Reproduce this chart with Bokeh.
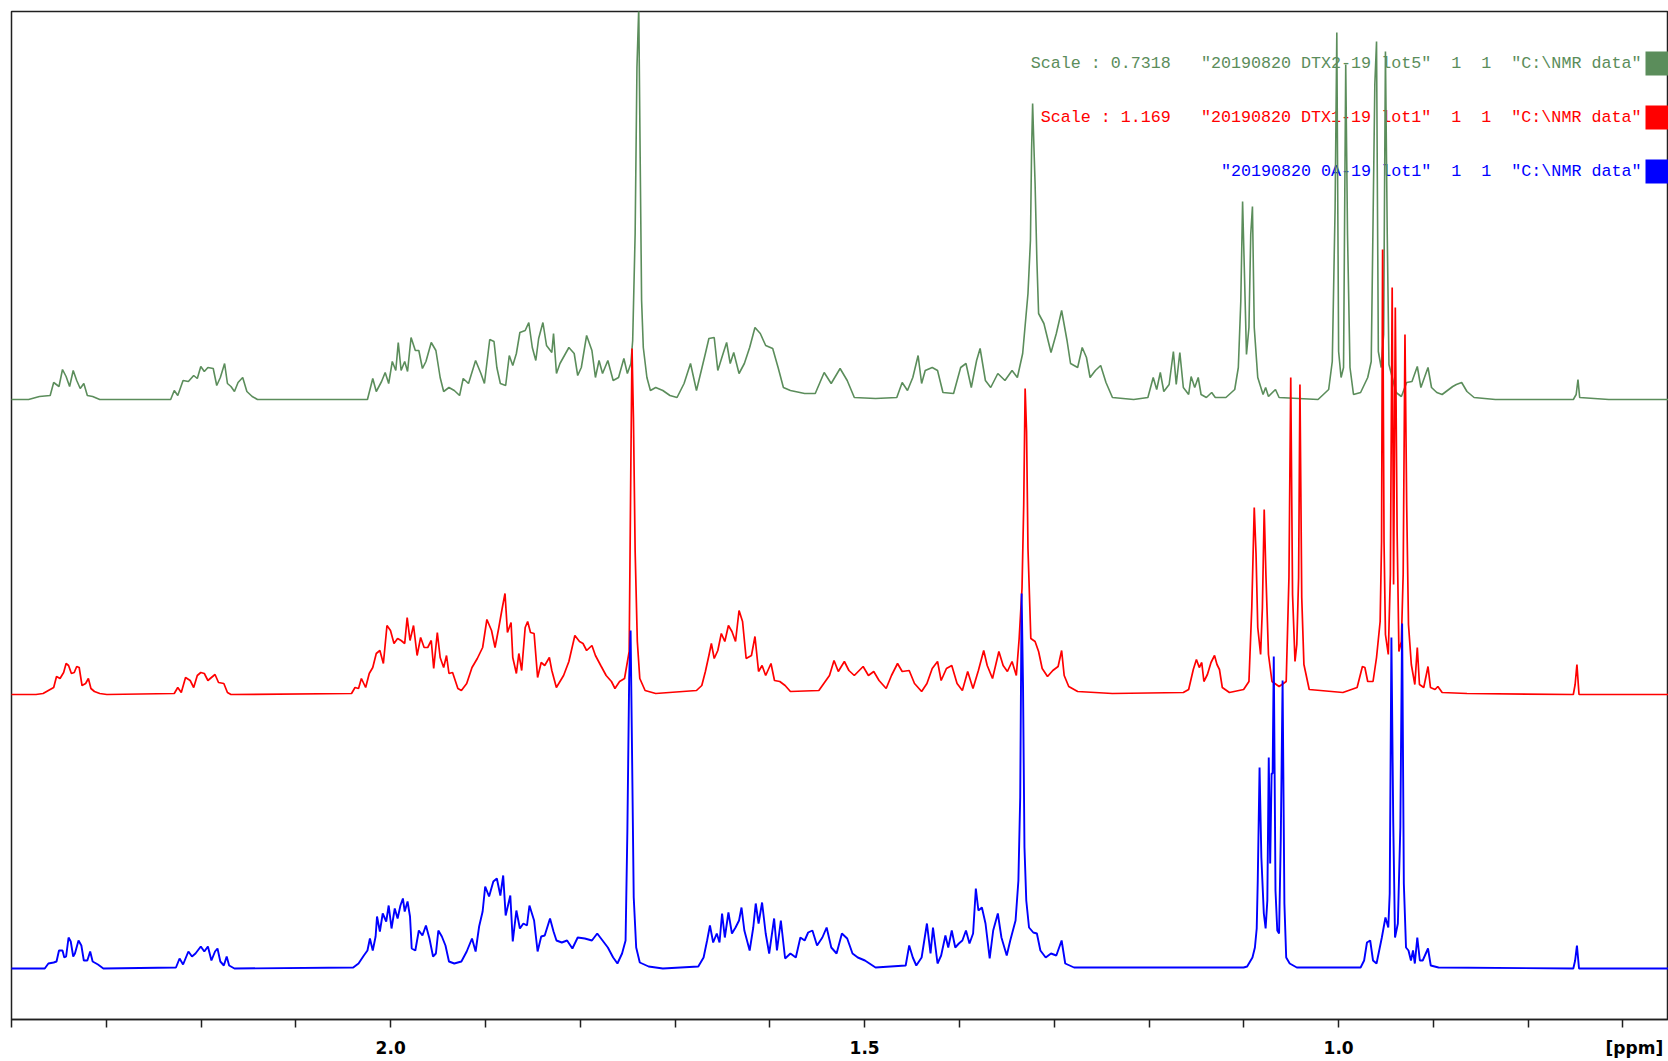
from bokeh.plotting import figure
from bokeh.models import Range1d, FixedTicker, Label, BoxAnnotation, PrintfTickFormatter
from bokeh.embed import file_html
from bokeh.resources import INLINE

# ---- data: (chemical shift ppm, intensity) ----
green_spectrum = [
    (2.412, 0), (2.382, 0), (2.3705, 3), (2.3592, 4), (2.3555, 17), (2.3499, 13), (2.3462, 30), (2.3424, 23),
    (2.3387, 13), (2.3349, 29), (2.3312, 19), (2.3275, 11), (2.3237, 16), (2.3200, 4), (2.3144, 3), (2.3069, 0),
    (2.2321, 0), (2.2283, 9), (2.2246, 4), (2.2190, 19), (2.2134, 18), (2.2078, 24), (2.2040, 21), (2.2003, 33),
    (2.1966, 28), (2.1928, 32), (2.1872, 31), (2.1835, 14), (2.1797, 22), (2.1752, 36), (2.1722, 16), (2.1685, 13),
    (2.1648, 8), (2.1610, 17), (2.1561, 22), (2.1517, 8), (2.1461, 3), (2.1405, 0), (2.0245, 0), (2.0189, 21),
    (2.0152, 8), (2.0096, 18), (2.0058, 27), (2.0021, 16), (1.9983, 38), (1.9946, 29), (1.9920, 57), (1.9890, 29),
    (1.9852, 38), (1.9822, 28), (1.9785, 62), (1.9740, 49), (1.9703, 49), (1.9665, 31), (1.9628, 38), (1.9572, 57),
    (1.9523, 49), (1.9478, 22), (1.9441, 8), (1.9385, 12), (1.9329, 9), (1.9273, 4), (1.9235, 21), (1.9179, 16),
    (1.9104, 39), (1.9048, 26), (1.9011, 16), (1.8955, 60), (1.8910, 58), (1.8880, 32), (1.8843, 16), (1.8787, 14),
    (1.8749, 44), (1.8712, 34), (1.8674, 46), (1.8637, 67), (1.8581, 69), (1.8543, 77), (1.8506, 52), (1.8469, 39),
    (1.8439, 61), (1.8394, 77), (1.8356, 54), (1.8300, 47), (1.8282, 66), (1.8251, 26), (1.8214, 36), (1.8120, 52),
    (1.8064, 46), (1.8027, 24), (1.7989, 32), (1.7933, 64), (1.7877, 49), (1.7840, 22), (1.7802, 39), (1.7765, 26),
    (1.7709, 39), (1.7653, 19), (1.7596, 22), (1.7540, 41), (1.7503, 26), (1.7466, 36), (1.7447, 59), (1.7421, 166),
    (1.7402, 332), (1.7383, 392), (1.7368, 242), (1.7353, 99), (1.7335, 52), (1.7297, 22), (1.7260, 9), (1.7204, 12),
    (1.7129, 9), (1.7054, 4), (1.6979, 2), (1.6905, 16), (1.6837, 36), (1.6774, 9), (1.6680, 46), (1.6643, 61),
    (1.6587, 62), (1.6549, 29), (1.6493, 46), (1.6456, 57), (1.6418, 36), (1.6381, 47), (1.6325, 26), (1.6269, 36),
    (1.6213, 52), (1.6157, 72), (1.6101, 66), (1.6044, 54), (1.5970, 51), (1.5913, 32), (1.5857, 12), (1.5783, 9),
    (1.5633, 6), (1.5521, 6), (1.5427, 27), (1.5353, 16), (1.5259, 31), (1.5184, 19), (1.5109, 2), (1.4885, 1),
    (1.4661, 2), (1.4604, 17), (1.4548, 9), (1.4492, 22), (1.4436, 44), (1.4399, 16), (1.4361, 29), (1.4287, 32),
    (1.4231, 29), (1.4174, 7), (1.4062, 6), (1.3987, 32), (1.3931, 36), (1.3875, 12), (1.3819, 39), (1.3782, 51),
    (1.3726, 19), (1.3670, 12), (1.3595, 26), (1.3520, 19), (1.3445, 29), (1.3389, 22), (1.3333, 46), (1.3277, 106),
    (1.3251, 159), (1.3239, 249), (1.3228, 296), (1.3213, 249), (1.3202, 216), (1.3183, 139), (1.3165, 86),
    (1.3109, 76), (1.3034, 47), (1.2978, 66), (1.2922, 89), (1.2865, 59), (1.2828, 36), (1.2753, 32), (1.2705, 52),
    (1.2660, 42), (1.2622, 22), (1.2566, 29), (1.2510, 34), (1.2454, 17), (1.2386, 2), (1.2162, 0), (1.2012, 2),
    (1.1956, 22), (1.1919, 10), (1.1881, 27), (1.1844, 8), (1.1788, 15), (1.1743, 48), (1.1713, 15), (1.1675, 47),
    (1.1638, 12), (1.1582, 5), (1.1556, 23), (1.1518, 12), (1.1481, 22), (1.1451, 5), (1.1395, 2), (1.1339, 7),
    (1.1301, 2), (1.1189, 2), (1.1096, 10), (1.1058, 32), (1.1032, 98), (1.1013, 198), (1.0995, 132), (1.0972, 45),
    (1.0946, 72), (1.0927, 165), (1.0909, 193), (1.0890, 72), (1.0853, 22), (1.0797, 5), (1.0770, 12), (1.0740, 3),
    (1.0666, 10), (1.0628, 2), (1.0217, 0), (1.0105, 10), (1.0067, 38), (1.0037, 192), (1.0019, 367), (1.0000, 48),
    (0.9974, 22), (0.9948, 32), (0.9925, 335), (0.9906, 165), (0.9880, 32), (0.9843, 5), (0.9768, 7), (0.9693, 22),
    (0.9656, 38), (0.9618, 315), (0.9600, 358), (0.9581, 48), (0.9551, 32), (0.9525, 65), (0.9506, 348),
    (0.9487, 165), (0.9469, 35), (0.9394, 7), (0.9338, 3), (0.9282, 17), (0.9226, 18), (0.9170, 33), (0.9132, 12),
    (0.9057, 32), (0.9020, 12), (0.8964, 7), (0.8908, 5), (0.8796, 13), (0.8758, 15), (0.8702, 17), (0.8646, 8),
    (0.8571, 2), (0.8347, 0), (0.7524, 0), (0.7494, 5), (0.7475, 20), (0.7457, 2), (0.7150, 0), (0.6500, 0),
]

red_spectrum = [
    (2.412, 0), (2.3742, 0), (2.3667, 1), (2.3611, 4), (2.3555, 7), (2.3525, 18), (2.3488, 16), (2.3450, 22),
    (2.3424, 31), (2.3398, 29), (2.3368, 21), (2.3338, 22), (2.3312, 28), (2.3286, 27), (2.3256, 9), (2.3218, 11),
    (2.3189, 16), (2.3162, 6), (2.3125, 3), (2.3069, 1), (2.2994, 0), (2.2283, 1), (2.2246, 7), (2.2209, 2),
    (2.2164, 17), (2.2115, 14), (2.2078, 7), (2.2040, 19), (2.2003, 22), (2.1966, 21), (2.1928, 14), (2.1891, 17),
    (2.1853, 20), (2.1816, 12), (2.1760, 11), (2.1722, 2), (2.1685, 0), (2.0413, 1), (2.0376, 7), (2.0339, 6),
    (2.0309, 16), (2.0264, 7), (2.0226, 21), (2.0189, 27), (2.0152, 41), (2.0114, 44), (2.0077, 31), (2.0039, 69),
    (2.0002, 64), (1.9965, 51), (1.9927, 56), (1.9890, 54), (1.9852, 51), (1.9826, 77), (1.9796, 54), (1.9759, 69),
    (1.9721, 39), (1.9684, 57), (1.9647, 47), (1.9609, 47), (1.9572, 54), (1.9546, 26), (1.9508, 62), (1.9478, 37),
    (1.9441, 27), (1.9411, 39), (1.9385, 21), (1.9347, 22), (1.9291, 6), (1.9254, 4), (1.9198, 11), (1.9142, 27),
    (1.9086, 36), (1.9030, 47), (1.8985, 75), (1.8936, 64), (1.8899, 47), (1.8861, 66), (1.8824, 86), (1.8794, 101),
    (1.8768, 62), (1.8730, 72), (1.8712, 37), (1.8674, 21), (1.8648, 41), (1.8618, 24), (1.8581, 67), (1.8555, 73),
    (1.8525, 62), (1.8487, 61), (1.8450, 17), (1.8412, 32), (1.8375, 29), (1.8326, 37), (1.8300, 24), (1.8252, 7),
    (1.8176, 19), (1.8120, 33), (1.8057, 59), (1.8008, 53), (1.7971, 51), (1.7933, 44), (1.7877, 49), (1.7840, 39),
    (1.7784, 29), (1.7727, 19), (1.7671, 13), (1.7634, 6), (1.7585, 13), (1.7533, 16), (1.7484, 43), (1.7466, 233),
    (1.7454, 346), (1.7439, 276), (1.7421, 143), (1.7398, 53), (1.7372, 16), (1.7316, 4), (1.7204, 1), (1.6774, 4),
    (1.6718, 9), (1.6680, 23), (1.6643, 39), (1.6617, 51), (1.6587, 36), (1.6549, 44), (1.6512, 61), (1.6475, 53),
    (1.6437, 69), (1.6400, 63), (1.6362, 53), (1.6325, 84), (1.6288, 73), (1.6250, 36), (1.6194, 39), (1.6157, 58),
    (1.6119, 23), (1.6082, 29), (1.6044, 19), (1.5988, 31), (1.5951, 14), (1.5895, 13), (1.5839, 9), (1.5783, 3),
    (1.5483, 4), (1.5371, 19), (1.5323, 34), (1.5278, 23), (1.5214, 33), (1.5166, 24), (1.5109, 19), (1.5016, 28),
    (1.4960, 19), (1.4904, 23), (1.4848, 14), (1.4773, 6), (1.4717, 19), (1.4653, 31), (1.4604, 23), (1.4530, 24),
    (1.4474, 11), (1.4399, 3), (1.4343, 11), (1.4287, 26), (1.4231, 33), (1.4193, 14), (1.4137, 26), (1.4081, 29),
    (1.4025, 11), (1.3969, 4), (1.3913, 23), (1.3857, 6), (1.3800, 24), (1.3744, 44), (1.3707, 29), (1.3651, 16),
    (1.3584, 43), (1.3539, 29), (1.3494, 23), (1.3445, 33), (1.3400, 19), (1.3370, 56), (1.3340, 106),
    (1.3322, 189), (1.3307, 306), (1.3292, 263), (1.3277, 146), (1.3247, 56), (1.3202, 53), (1.3165, 43),
    (1.3127, 26), (1.3071, 18), (1.3015, 24), (1.2959, 28), (1.2922, 44), (1.2895, 19), (1.2847, 8), (1.2753, 3),
    (1.2387, 1), (1.1638, 2), (1.1582, 5), (1.1533, 25), (1.1500, 35), (1.1470, 27), (1.1444, 32), (1.1421, 13),
    (1.1384, 20), (1.1346, 32), (1.1309, 39), (1.1283, 30), (1.1257, 25), (1.1227, 7), (1.1152, 2), (1.1002, 5),
    (1.0946, 13), (1.0916, 87), (1.0890, 187), (1.0871, 140), (1.0853, 67), (1.0823, 40), (1.0804, 87),
    (1.0785, 185), (1.0767, 120), (1.0740, 40), (1.0703, 13), (1.0628, 8), (1.0553, 13), (1.0524, 117),
    (1.0505, 317), (1.0486, 100), (1.0460, 33), (1.0441, 50), (1.0422, 117), (1.0408, 310), (1.0389, 97),
    (1.0366, 30), (1.0310, 5), (0.9955, 2), (0.9805, 7), (0.9749, 28), (0.9723, 27), (0.9693, 13), (0.9637, 13),
    (0.9600, 37), (0.9562, 73), (0.9547, 153), (0.9536, 445), (0.9521, 153), (0.9506, 60), (0.9476, 40),
    (0.9454, 120), (0.9435, 407), (0.9420, 110), (0.9402, 387), (0.9383, 163), (0.9364, 43), (0.9338, 53),
    (0.9319, 120), (0.9300, 360), (0.9282, 190), (0.9263, 70), (0.9233, 30), (0.9196, 10), (0.9170, 47),
    (0.9147, 10), (0.9102, 7), (0.9057, 28), (0.9031, 7), (0.8983, 5), (0.8953, 8), (0.8908, 2), (0.8646, 1),
    (0.7524, 0), (0.7505, 10), (0.7486, 30), (0.7464, 0), (0.6500, 0),
]

blue_spectrum = [
    (2.412, 0), (2.3649, 0), (2.3611, 5), (2.3555, 6), (2.3525, 7), (2.3499, 18), (2.3462, 18), (2.3443, 11),
    (2.3424, 12), (2.3398, 31), (2.3375, 27), (2.3349, 12), (2.3331, 15), (2.3293, 28), (2.3263, 23), (2.3237, 8),
    (2.3200, 8), (2.3170, 17), (2.3144, 7), (2.3088, 4), (2.3031, 0), (2.2265, 1), (2.2227, 10), (2.2190, 4),
    (2.2134, 17), (2.2096, 12), (2.2059, 15), (2.2003, 22), (2.1966, 17), (2.1928, 22), (2.1891, 8), (2.1853, 17),
    (2.1827, 20), (2.1797, 7), (2.1760, 3), (2.1730, 12), (2.1704, 3), (2.1648, 0), (2.0395, 1), (2.0339, 5),
    (2.0283, 13), (2.0245, 18), (2.0219, 30), (2.0189, 18), (2.0159, 32), (2.0144, 52), (2.0114, 37), (2.0084, 55),
    (2.0047, 47), (2.0021, 63), (1.9991, 40), (1.9957, 60), (1.9927, 50), (1.9897, 63), (1.9871, 70), (1.9852, 57),
    (1.9822, 67), (1.9796, 52), (1.9778, 20), (1.9740, 18), (1.9703, 38), (1.9665, 33), (1.9628, 43), (1.9591, 30),
    (1.9553, 12), (1.9523, 15), (1.9497, 38), (1.9460, 32), (1.9422, 23), (1.9385, 7), (1.9329, 5), (1.9254, 7),
    (1.9198, 17), (1.9142, 30), (1.9104, 17), (1.9067, 42), (1.9030, 57), (1.9003, 82), (1.8962, 72), (1.8917, 87),
    (1.8880, 90), (1.8843, 73), (1.8813, 93), (1.8787, 53), (1.8738, 73), (1.8712, 27), (1.8674, 58), (1.8637, 40),
    (1.8600, 45), (1.8562, 43), (1.8536, 63), (1.8487, 48), (1.8450, 17), (1.8412, 32), (1.8375, 33), (1.8319, 50),
    (1.8282, 37), (1.8251, 28), (1.8195, 26), (1.8139, 28), (1.8083, 20), (1.8027, 31), (1.7952, 30), (1.7877, 28),
    (1.7821, 35), (1.7765, 28), (1.7709, 21), (1.7653, 11), (1.7608, 5), (1.7559, 15), (1.7522, 28), (1.7503, 138),
    (1.7484, 291), (1.7469, 338), (1.7454, 218), (1.7436, 71), (1.7410, 21), (1.7372, 6), (1.7279, 2), (1.7129, 0),
    (1.6755, 2), (1.6699, 11), (1.6662, 28), (1.6632, 43), (1.6598, 26), (1.6560, 35), (1.6531, 26), (1.6504, 55),
    (1.6475, 31), (1.6437, 56), (1.6400, 35), (1.6362, 41), (1.6325, 48), (1.6299, 61), (1.6269, 38), (1.6213, 18),
    (1.6175, 41), (1.6149, 65), (1.6119, 45), (1.6082, 66), (1.6044, 35), (1.6007, 15), (1.5955, 50), (1.5925, 18),
    (1.5884, 48), (1.5839, 10), (1.5783, 15), (1.5726, 11), (1.5678, 31), (1.5633, 28), (1.5596, 36), (1.5551, 38),
    (1.5502, 23), (1.5446, 31), (1.5401, 41), (1.5352, 21), (1.5296, 15), (1.5240, 35), (1.5184, 30), (1.5128, 15),
    (1.5072, 11), (1.4997, 8), (1.4885, 1), (1.4567, 3), (1.4530, 23), (1.4492, 11), (1.4455, 3), (1.4399, 11),
    (1.4343, 45), (1.4305, 15), (1.4279, 41), (1.4231, 5), (1.4193, 13), (1.4148, 33), (1.4118, 21), (1.4081, 38),
    (1.4044, 21), (1.4006, 25), (1.3969, 28), (1.3931, 38), (1.3894, 25), (1.3856, 35), (1.3827, 80), (1.3800, 58),
    (1.3763, 61), (1.3725, 45), (1.3681, 10), (1.3644, 38), (1.3595, 55), (1.3557, 31), (1.3501, 13), (1.3464, 28),
    (1.3408, 48), (1.3378, 88), (1.3359, 171), (1.3344, 375), (1.3329, 281), (1.3314, 121), (1.3295, 68),
    (1.3266, 41), (1.3221, 36), (1.3183, 35), (1.3146, 18), (1.3090, 11), (1.3034, 15), (1.2978, 13), (1.2922, 28),
    (1.2884, 5), (1.2791, 1), (1.2386, 1), (1.1002, 1), (1.0965, 2), (1.0909, 11), (1.0883, 21), (1.0864, 40),
    (1.0853, 88), (1.0834, 201), (1.0815, 111), (1.0789, 55), (1.0770, 40), (1.0752, 68), (1.0737, 211),
    (1.0722, 105), (1.0707, 195), (1.0696, 195), (1.0684, 312), (1.0666, 78), (1.0647, 38), (1.0628, 35),
    (1.0610, 131), (1.0591, 288), (1.0572, 65), (1.0553, 11), (1.0516, 5), (1.0441, 1), (0.9768, 1), (0.9731, 8),
    (0.9701, 26), (0.9667, 28), (0.9637, 8), (0.9600, 5), (0.9544, 31), (0.9506, 51), (0.9476, 41), (0.9461, 75),
    (0.9443, 331), (0.9424, 148), (0.9405, 31), (0.9375, 45), (0.9349, 141), (0.9330, 345), (0.9312, 85),
    (0.9289, 21), (0.9263, 18), (0.9237, 8), (0.9215, 18), (0.9196, 5), (0.9170, 31), (0.9143, 8), (0.9113, 8),
    (0.9057, 20), (0.9028, 3), (0.8946, 1), (0.7524, 0), (0.7505, 8), (0.7486, 23), (0.7464, 0), (0.6500, 0),
]

legend_texts = [
    'Scale : 0.7318   "20190820 DTX2-19 lot5"  1  1  "C:\\NMR data"',
    'Scale : 1.169   "20190820 DTX1-19 lot1"  1  1  "C:\\NMR data"',
    '"20190820 0A-19 lot1"  1  1  "C:\\NMR data"',
]
labelled_ticks = [2.0, 1.5, 1.0]
unit_label = "[ppm]"
unit_label_pos = 0.688
all_ticks = [2.4, 2.3, 2.2, 2.1, 2.0, 1.9, 1.8, 1.7, 1.6, 1.5, 1.4, 1.3, 1.2, 1.1, 1.0, 0.9, 0.8, 0.7]

# ---- styling / layout ----
GREEN, RED, BLUE = "#5b8d5b", "#ff0000", "#0000ff"
offsets = {"green": 620, "red": 325, "blue": 51}

p = figure(width=1668, height=1061, output_backend="svg", toolbar_location=None,
           x_range=Range1d(2.4, 0.652), y_range=Range1d(0, 1008),
           y_axis_location=None, min_border_left=11, min_border_top=11,
           min_border_right=0, min_border_bottom=42)
p.grid.visible = False
p.outline_line_color = "#202020"
p.outline_line_width = 1.5
p.background_fill_color = "white"
p.border_fill_color = "white"

def draw(spec, off, color, lw):
    xs = [a for a, b in spec]
    ys = [b + off for a, b in spec]
    p.line(xs, ys, line_color=color, line_width=lw)

draw(green_spectrum, offsets["green"], GREEN, 1.6)
draw(red_spectrum, offsets["red"], RED, 1.7)
draw(blue_spectrum, offsets["blue"], BLUE, 1.9)

ax = p.xaxis[0]
# every 0.1 ppm tick mark is drawn as a "minor" tick; the "major" ticks only carry labels
ax.ticker = FixedTicker(ticks=labelled_ticks + [unit_label_pos], minor_ticks=all_ticks)
ax.formatter = PrintfTickFormatter(format="%.1f")
ax.major_label_overrides = {unit_label_pos: unit_label}
ax.major_tick_out = 8
ax.major_tick_in = 0
ax.major_tick_line_color = None
ax.minor_tick_out = 8
ax.minor_tick_in = 0
ax.minor_tick_line_color = "#202020"
ax.minor_tick_line_width = 1.5
ax.axis_line_color = "#202020"
ax.axis_line_width = 1.5
ax.major_label_text_font = "DejaVu Sans"
ax.major_label_text_font_style = "bold"
ax.major_label_text_font_size = "17px"
ax.major_label_text_color = "black"
ax.major_label_standoff = 10

NBSP = "\u00a0"
legend_colors = [GREEN, RED, BLUE]
legend_y = [956, 902, 848]
for txt, col, yy in zip(legend_texts, legend_colors, legend_y):
    p.add_layout(Label(x=1630, y=yy, x_units="screen", y_units="screen", text=txt.replace(" ", NBSP),
                       text_font="Liberation Mono", text_font_size="16.7px",
                       text_align="right", text_baseline="middle", text_color=col,
                       level="underlay"))
    p.add_layout(BoxAnnotation(left=1634, right=1660, bottom=yy - 12, top=yy + 12,
                               left_units="screen", right_units="screen",
                               bottom_units="screen", top_units="screen",
                               fill_color=col, fill_alpha=1.0, line_color=None))

open("out.html", "w").write(file_html(p, INLINE))
